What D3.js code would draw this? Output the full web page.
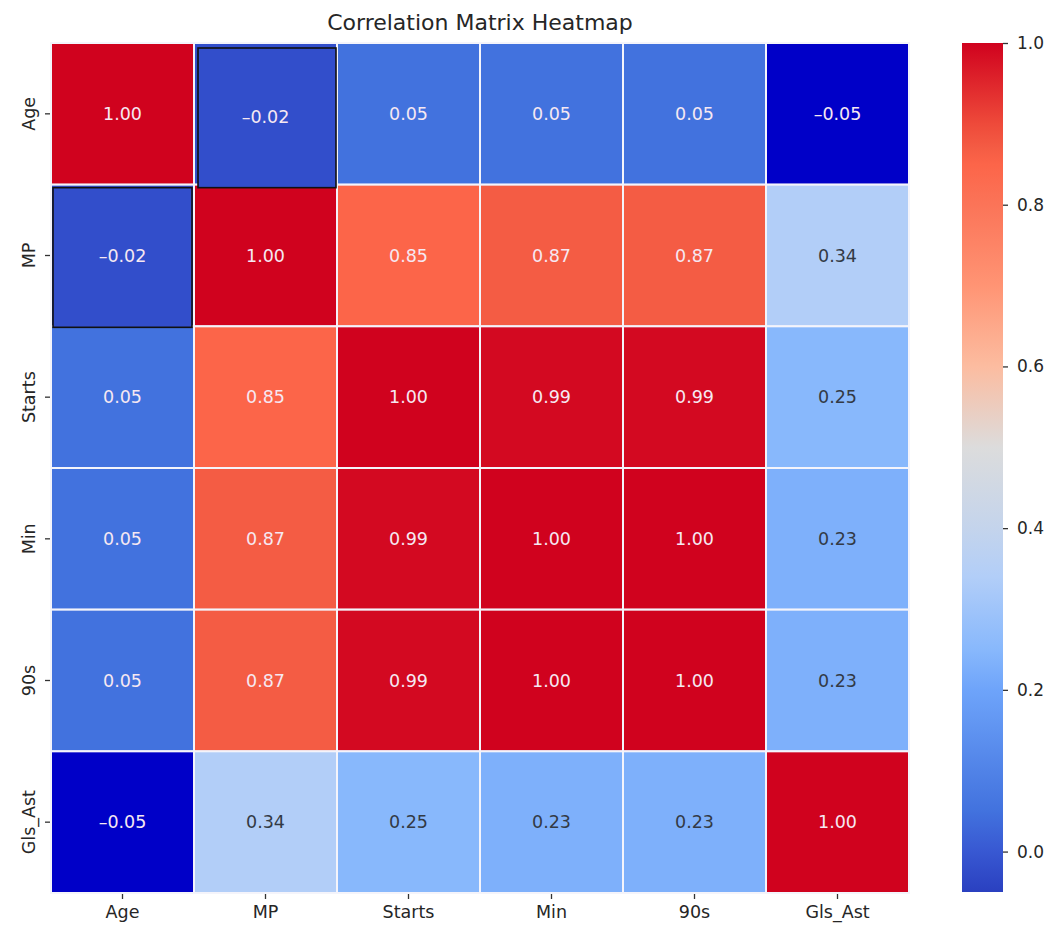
<!DOCTYPE html>
<html>
<head>
<meta charset="utf-8">
<script src="https://cdn.jsdelivr.net/npm/d3@7"></script>
<style>
body { margin: 0; background: #fff; }
text { font-family: "DejaVu Sans", sans-serif; }
</style>
</head>
<body>
<svg id="mainSvg" width="1064" height="925"></svg>
<script>
var labels = ["Age", "MP", "Starts", "Min", "90s", "Gls_Ast"];
var matrix = [
	[1.00, -0.02, 0.05, 0.05, 0.05, -0.05],
	[-0.02, 1.00, 0.85, 0.87, 0.87, 0.34],
	[0.05, 0.85, 1.00, 0.99, 0.99, 0.25],
	[0.05, 0.87, 0.99, 1.00, 1.00, 0.23],
	[0.05, 0.87, 0.99, 1.00, 1.00, 0.23],
	[-0.05, 0.34, 0.25, 0.23, 0.23, 1.00]
];
var cbTicks = [0.0, 0.2, 0.4, 0.6, 0.8, 1.0];
// cells drawn with a black outline / deep blue fill in the picture
var outlined = [[0, 1], [1, 0]];
var deepBlue = [[0, 5], [5, 0]];

var colorStops = [-0.05, 0.0, 0.05, 0.2, 0.25, 0.34, 0.4, 0.5, 0.6, 0.7, 0.8, 0.85, 0.87, 0.9, 1.0];
var colorRange = ["#2a40c0", "#3858d2", "#4272de", "#6ea4fa", "#88b8fc", "#b2cef8", "#c4d4ec", "#dcdcdc",
	"#fcbca0", "#ff9474", "#fb7458", "#fc6549", "#f45c44", "#ee4a3a", "#d0021e"];

var svg = d3.select("#mainSvg");
var mLeft = 51, mRight = 909, mTop = 43, mBottom = 893;

var x = d3.scaleBand().domain(labels).range([mLeft, mRight]);
var y = d3.scaleBand().domain(labels).range([mTop, mBottom]);
var color = d3.scaleLinear().domain(colorStops).range(colorRange).interpolate(d3.interpolateRgb).clamp(true);

function isIn(list, i, j)
{
	return list.some(function(p) { return p[0] == i && p[1] == j; });
}

var cells = [];
for(var i = 0; i < labels.length; i++)
	for(var j = 0; j < labels.length; j++)
		cells.push({i: i, j: j, v: matrix[i][j]});

function fillOf(d)
{
	return isIn(deepBlue, d.i, d.j) ? "#0000c8" : color(d.v);
}

svg.append("g").selectAll("rect").data(cells).enter().append("rect")
	.attr("x", function(d) { return x(labels[d.j]); })
	.attr("y", function(d) { return y(labels[d.i]); })
	.attr("width", x.bandwidth())
	.attr("height", y.bandwidth())
	.attr("fill", fillOf)
	.attr("stroke", "#f4f4fb")
	.attr("stroke-width", 2);

svg.append("g").selectAll("rect").data(cells.filter(function(d) { return isIn(outlined, d.i, d.j); })).enter().append("rect")
	.attr("x", function(d) { return x(labels[d.j]) + (d.j == 0 ? 2 : 4); })
	.attr("y", function(d) { return y(labels[d.i]) + (d.i == 0 ? 5 : 3); })
	.attr("width", function(d) { return x.bandwidth() - (d.j == 0 ? 4 : 5); })
	.attr("height", y.bandwidth() - 2)
	.attr("fill", function(d) { return color(d.v); })
	.attr("stroke", "#111")
	.attr("stroke-width", 1.6);

svg.append("g").selectAll("text").data(cells).enter().append("text")
	.attr("x", function(d) { return x(labels[d.j]) + x.bandwidth() / 2; })
	.attr("y", function(d) { return y(labels[d.i]) + y.bandwidth() / 2 + (isIn(outlined, d.i, d.j) && d.i == 0 ? 3 : 0); })
	.attr("text-anchor", "middle")
	.attr("dominant-baseline", "central")
	.attr("font-size", 17.5)
	.attr("fill", function(d) { return (d.v > 0.15 && d.v < 0.7) ? "#333a45" : "#f6e8f2"; })
	.text(function(d) { return d3.format(".2f")(d.v).replace("-", "\u2013").replace("\u2212", "\u2013"); });

// axes
var xAxis = svg.append("g").attr("transform", "translate(0," + (mBottom + 1) + ")")
	.call(d3.axisBottom(x).tickSize(5).tickPadding(7));
var yAxis = svg.append("g").attr("transform", "translate(" + (mLeft - 1) + ",0)")
	.call(d3.axisLeft(y).tickSize(5).tickPadding(6));
[xAxis, yAxis].forEach(function(a) {
	a.select(".domain").remove();
	a.selectAll("line").attr("stroke", "#333").attr("stroke-width", 1.3);
	a.selectAll("text").attr("font-size", 17.5).attr("fill", "#262626").style("font-family", "DejaVu Sans");
});
yAxis.selectAll(".tick text")
	.attr("transform", "rotate(-90)")
	.attr("x", 0).attr("y", -15).attr("dy", "0")
	.attr("text-anchor", "middle");

// title
svg.append("text")
	.attr("x", 480).attr("y", 30)
	.attr("text-anchor", "middle")
	.attr("font-size", 22)
	.attr("fill", "#262626")
	.text("Correlation Matrix Heatmap");

// colorbar
var cbX = 962, cbW = 41;
var cbScale = d3.scaleLinear().domain([-0.05, 1.0]).range([892, 43]);
var grad = svg.append("defs").append("linearGradient").attr("id", "cbGrad")
	.attr("x1", 0).attr("y1", 1).attr("x2", 0).attr("y2", 0);
grad.selectAll("stop").data(colorStops).enter().append("stop")
	.attr("offset", function(d) { return (d + 0.05) / 1.05; })
	.attr("stop-color", function(d) { return color(d); });
svg.append("rect")
	.attr("x", cbX).attr("y", 43).attr("width", cbW).attr("height", 849)
	.attr("fill", "url(#cbGrad)");
var cbAxis = svg.append("g").attr("transform", "translate(" + (cbX + cbW) + ",0)")
	.call(d3.axisRight(cbScale).tickValues(cbTicks).tickFormat(d3.format(".1f")).tickSize(5).tickPadding(9));
cbAxis.select(".domain").remove();
cbAxis.selectAll("line").attr("stroke", "#333").attr("stroke-width", 1.3);
cbAxis.selectAll("text").attr("font-size", 17).attr("fill", "#262626").style("font-family", "DejaVu Sans");
</script>
</body>
</html>
